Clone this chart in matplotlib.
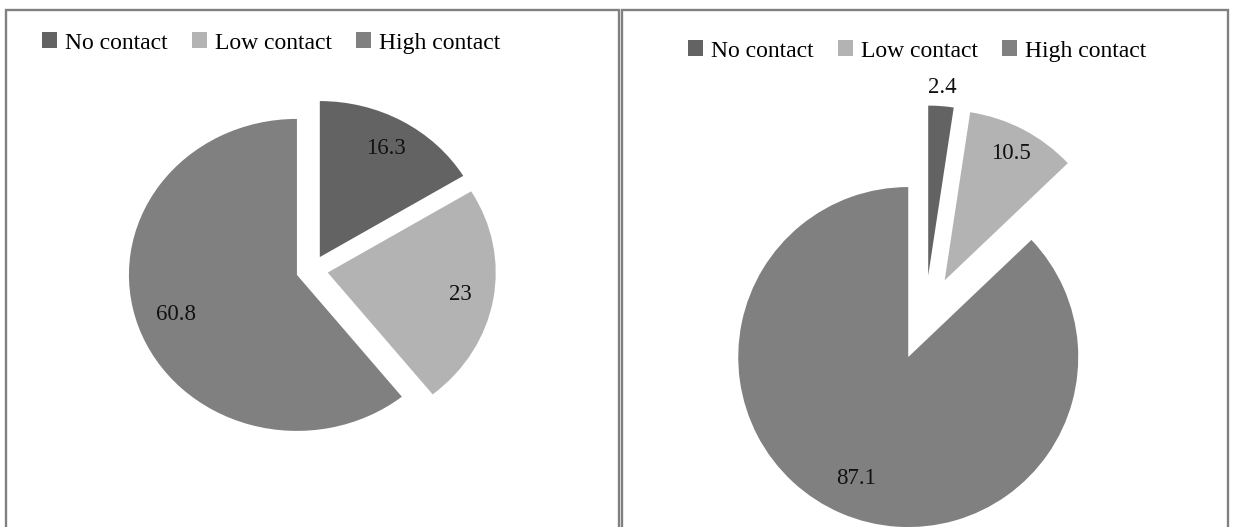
import matplotlib.pyplot as plt
from matplotlib.patches import Rectangle
import numpy as np

W, H = 1233, 527

categories = ['No contact', 'Low contact', 'High contact']
before_values = [16.3, 23, 60.8]
after_values = [2.4, 10.5, 87.1]
before_labels = ['16.3', '23', '60.8']
after_labels = ['2.4', '10.5', '87.1']
colors = ['#636363', '#b3b3b3', '#808080']

plt.rcParams['font.family'] = ['Liberation Serif', 'DejaVu Serif']

fig = plt.figure(figsize=(W / 100, H / 100), dpi=100)


# draws one exploded pie inside a panel; center and radii are in pixels (y from top)
def draw_pie(panel, center, rx, ry, values, labels, explode, label_dist):
    x0, x1 = panel
    ax = fig.add_axes([x0 / W, 0, (x1 - x0) / W, 1])
    wedges, _ = ax.pie(values, colors=colors, startangle=90, counterclock=False,
                       explode=[explode] * len(values), radius=1,
                       wedgeprops=dict(linewidth=0))
    cx, cy = center
    ax.set_aspect('auto')
    ax.set_xlim((x0 - cx) / rx, (x1 - cx) / rx)
    ax.set_ylim(-(H - cy) / ry, cy / ry)
    ax.axis('off')
    for w, lbl, d in zip(wedges, labels, label_dist):
        theta = np.deg2rad((w.theta1 + w.theta2) / 2)
        x = w.center[0] + d * np.cos(theta)
        y = w.center[1] + d * np.sin(theta)
        ax.text(x, y, lbl, ha='center', va='center', fontsize=16.5, color='#111111')
    return wedges


left_wedges = draw_pie((0, 620), (312, 270), 168, 156, before_values, before_labels,
                       0.095, [0.8, 0.8, 0.76])
right_wedges = draw_pie((620, W), (925, 318), 170, 170, after_values, after_labels,
                        0.25, [1.11, 0.84, 0.78])

# legends above each pie
for wedges, (lx, ly) in [(left_wedges, (42, 43)), (right_wedges, (688, 51))]:
    fig.legend(wedges, categories, loc='center left',
               bbox_to_anchor=(lx / W, 1 - ly / H), ncol=3, frameon=False,
               fontsize=17, handlelength=0.64, handleheight=0.64,
               handletextpad=0.35, columnspacing=1.0, borderpad=0,
               borderaxespad=0)

# panel borders
for bx0, bx1 in [(6, 619), (622, 1228)]:
    fig.patches.append(Rectangle((bx0 / W, -0.05), (bx1 - bx0) / W, 1.05 - 10 / H,
                                 transform=fig.transFigure, fill=False,
                                 edgecolor='#808080', linewidth=1.7))

fig.savefig('out.png', dpi=100)
